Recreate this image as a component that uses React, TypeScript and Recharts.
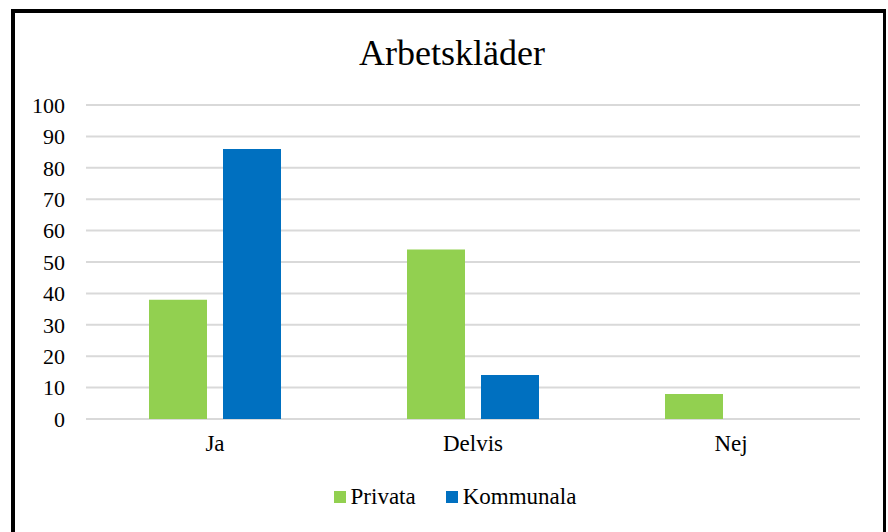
import { Bar, BarChart, CartesianGrid, XAxis, YAxis } from 'recharts';

const categories = ['Ja', 'Delvis', 'Nej'];
const privata = [38, 54, 8];
const kommunala = [86, 14, 0];
const yTicks = [0, 10, 20, 30, 40, 50, 60, 70, 80, 90, 100];
const seriesNames = ['Privata', 'Kommunala'];
const seriesColors = ['#92d050', '#0070c0'];

const data = categories.map((name, i) => ({ name, Privata: privata[i], Kommunala: kommunala[i] }));

const font = '"Liberation Serif", "Times New Roman", serif';

export default function App() {
  return (
    <div style={{ position: 'absolute', left: 0, top: 0, width: 888, height: 532, overflow: 'hidden', background: '#fff' }}>
      <div style={{ position: 'absolute', left: 11, top: 9, width: 868, height: 600, border: '4px solid #000', borderRight: '3px solid #000' }} />
      <div style={{ position: 'absolute', left: 0, top: 31, width: 904, textAlign: 'center', fontFamily: font, fontSize: 36, lineHeight: '44px', color: '#000' }}>
        Arbetskläder
      </div>
      <div style={{ position: 'absolute', left: 0, top: 0 }}>
        <BarChart width={888} height={532} data={data} margin={{ top: 105, right: 28, bottom: 83, left: 0 }} barCategoryGap={63} barGap={16}>
          <CartesianGrid vertical={false} stroke="#d9d9d9" strokeWidth={2} />
          <XAxis
            dataKey="name"
            height={30}
            axisLine={false}
            tickLine={false}
            tickSize={0}
            tickMargin={16}
            tick={{ fontFamily: font, fontSize: 23, fill: '#000' }}
          />
          <YAxis
            width={86}
            domain={[0, 100]}
            ticks={yTicks}
            interval={0}
            axisLine={false}
            tickLine={false}
            tickSize={0}
            tickMargin={21}
            tick={{ fontFamily: font, fontSize: 22, fill: '#000' }}
          />
          {seriesNames.map((s, i) => (
            <Bar key={s} dataKey={s} fill={seriesColors[i]} isAnimationActive={false} />
          ))}
        </BarChart>
      </div>
      <div style={{ position: 'absolute', left: 0, top: 483, width: 910, display: 'flex', justifyContent: 'center', gap: 30, fontFamily: font, fontSize: 23, lineHeight: '28px', color: '#000' }}>
        {seriesNames.map((s, i) => (
          <div key={s} style={{ display: 'flex', alignItems: 'center' }}>
            <span style={{ width: 12, height: 12, background: seriesColors[i], display: 'inline-block', marginRight: 5 }} />
            <span>{s}</span>
          </div>
        ))}
      </div>
    </div>
  );
}
